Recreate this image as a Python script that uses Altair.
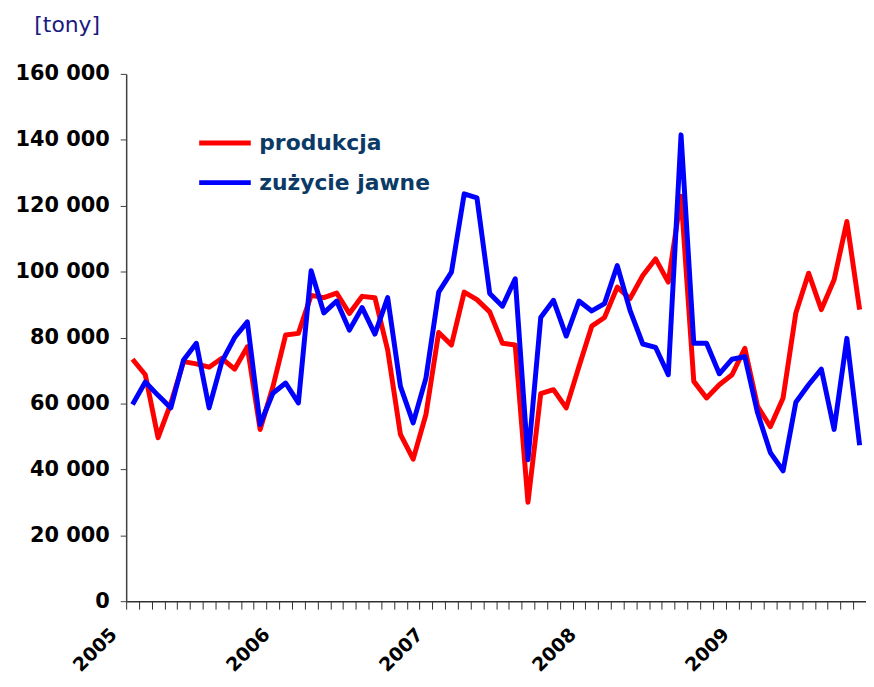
import altair as alt
import pandas as pd

years = ["2005", "2006", "2007", "2008", "2009"]
series_names = ["produkcja", "zużycie jawne"]
produkcja = [73400, 68700, 49600, 60000, 72700, 72000, 71000, 73700, 70400, 77200,
             52100, 65000, 80750, 81260, 92800, 92100, 93500, 87300, 92500, 92100,
             76230, 50600, 43090, 56640, 81560, 77740, 93800, 91500, 87800, 78250,
             77740, 30030, 62970, 64180, 58660, 71200, 83460, 86080, 95300, 91800,
             98830, 103860, 96810, 122900, 66700, 61670, 65690, 68700, 76740, 59150,
             52930, 61670, 87480, 99530, 88480, 97530, 115200, 88480]
zuzycie = [59660, 66500, 62460, 58660, 73200, 78250, 58660, 72700, 80000, 84750,
           53600, 63100, 66200, 60170, 100300, 87470, 91080, 82250, 89100, 81050,
           92100, 65200, 54100, 67700, 93800, 99830, 123600, 122400, 93400, 89500,
           97830, 42880, 86080, 91300, 80450, 91080, 88070, 90300, 101840, 88280,
           78040, 77040, 68700, 141500, 78250, 78250, 69000, 73430, 74220, 57150,
           45100, 39570, 60360, 65690, 70400, 52130, 79750, 47300]
y_ticks = [0, 20000, 40000, 60000, 80000, 100000, 120000, 140000, 160000]

n = len(produkcja)
rows = []
for i, v in enumerate(produkcja):
    rows.append({"m": i + 0.5, "seria": series_names[0], "v": v})
for i, v in enumerate(zuzycie):
    rows.append({"m": i + 0.5, "seria": series_names[1], "v": v})
df = pd.DataFrame(rows)

label_expr = ("datum.value % 12 == 0 && datum.value < " + str(n)
              + " ? toString(" + years[0] + " + datum.value / 12) : ''")

chart = alt.Chart(df).mark_line(strokeWidth=5, strokeJoin="round").encode(
    x=alt.X("m:Q",
            scale=alt.Scale(domain=[0, n], nice=False, zero=False),
            axis=alt.Axis(values=list(range(n + 1)), labelExpr=label_expr,
                          title=None, grid=False, labelAngle=-45,
                          labelAlign="right", labelBaseline="middle",
                          labelFlush=False, labelOverlap=False, labelBound=False,
                          labelPadding=22, labelOffset=-13,
                          labelFont="DejaVu Sans", labelFontWeight="bold",
                          labelFontSize=19, labelColor="#000000",
                          tickSize=8, tickColor="#303030", domainColor="#303030",
                          domainWidth=1.5)),
    y=alt.Y("v:Q",
            scale=alt.Scale(domain=[0, 160000], nice=False),
            axis=alt.Axis(values=y_ticks,
                          labelExpr="replace(format(datum.value, ','), ',', ' ')",
                          grid=False, tickSize=6, labelPadding=11,
                          labelFont="DejaVu Sans", labelFontWeight="bold",
                          labelFontSize=21, labelColor="#000000",
                          tickColor="#404040", domainColor="#404040", domainWidth=1.5,
                          title="[tony]", titleAngle=0, titleAlign="left",
                          titleBaseline="middle", titleX=-93, titleY=-50,
                          titleFont="DejaVu Sans", titleFontWeight="normal",
                          titleFontSize=22, titleColor="#1a1a80")),
    color=alt.Color("seria:N",
                    scale=alt.Scale(domain=series_names, range=["#ff0000", "#0000ff"]),
                    legend=alt.Legend(title=None, orient="none", legendX=71, legendY=41,
                                      symbolType="stroke", symbolSize=2700,
                                      symbolStrokeWidth=5, rowPadding=-27,
                                      labelOffset=6, labelFont="DejaVu Sans",
                                      labelFontWeight="bold", labelFontSize=22,
                                      labelColor="#0b3a66", labelLimit=400)),
    order=alt.Order("seria:N"),
).properties(
    width=745, height=531,
    autosize=alt.AutoSizeParams(type="none"),
    padding={"left": 119, "top": 64, "right": 0, "bottom": 76},
).configure_view(stroke=None)

chart.save("out.html", embed_options={"renderer": "svg", "actions": False})
